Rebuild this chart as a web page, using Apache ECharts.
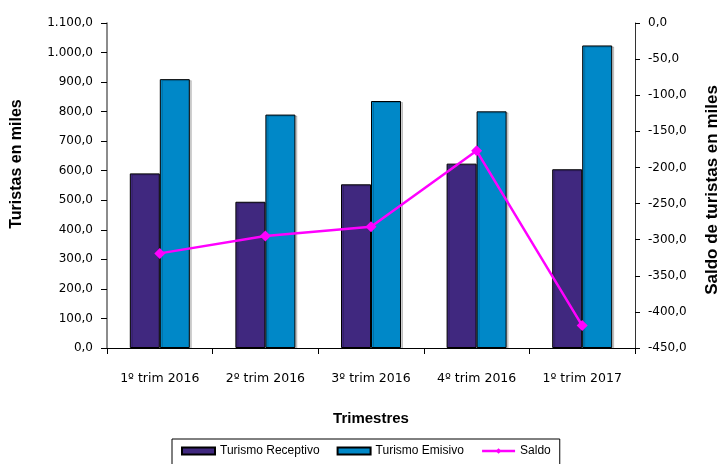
<!DOCTYPE html>
<html>
<head>
<meta charset="utf-8">
<script src="https://cdn.jsdelivr.net/npm/echarts@6/dist/echarts.min.js"></script>
<style>
html,body{margin:0;padding:0;background:#fff;}
#chart{width:723px;height:464px;}
</style>
</head>
<body>
<div id="chart"></div>
<script>
var categories = ['1º trim 2016', '2º trim 2016', '3º trim 2016', '4º trim 2016', '1º trim 2017'];
var receptivo = [591, 495, 554, 624, 605];
var emisivo = [910, 790, 836, 801, 1024];
var saldo = [-319, -295, -282, -177, -419];

function fmt(v) {
  var neg = v < 0;
  var s = Math.abs(v).toFixed(1).split('.');
  var ip = s[0].replace(/\B(?=(\d{3})+(?!\d))/g, '.');
  return (neg ? '-' : '') + ip + ',' + s[1];
}

var chart = echarts.init(document.getElementById('chart'), null, {renderer: 'canvas'});
var tickFont = {fontFamily: 'DejaVu Sans', fontSize: 12, color: '#000'};
var option = {
  animation: false,
  backgroundColor: '#fff',
  grid: {left: 107, right: 88, top: 23, bottom: 116, containLabel: false},
  legend: {
    left: 172, top: 439,
    orient: 'horizontal',
    borderColor: '#000', borderWidth: 1,
    padding: [6, 9, 8, 9],
    itemGap: 17,
    itemWidth: 33, itemHeight: 7,
    textStyle: {fontFamily: 'Liberation Sans', fontSize: 12, color: '#000'},
    data: [
      {name: 'Turismo Receptivo', icon: 'rect'},
      {name: 'Turismo Emisivo', icon: 'rect'},
      {name: 'Saldo', lineStyle: {width: 2.5, color: '#FF00FF'}}
    ]
  },
  xAxis: {
    type: 'category',
    data: categories,
    name: 'Trimestres',
    nameLocation: 'middle',
    nameGap: 63,
    nameTextStyle: {fontFamily: 'Liberation Sans', fontSize: 15, fontWeight: 'bold', color: '#000'},
    axisLine: {lineStyle: {color: '#000', width: 1}},
    axisTick: {show: true, length: 6, lineStyle: {color: '#000'}},
    axisLabel: Object.assign({margin: 24}, tickFont, {fontSize: 12.5}),
    splitLine: {show: false}
  },
  yAxis: [
    {
      type: 'value', min: 0, max: 1100, interval: 100,
      position: 'left',
      axisLine: {show: true, lineStyle: {color: '#666', width: 1.5}},
      axisTick: {show: true, length: 6, lineStyle: {color: '#000'}},
      axisLabel: Object.assign({margin: 14, formatter: fmt}, tickFont),
      splitLine: {show: false}
    },
    {
      type: 'value', min: -450, max: 0, interval: 50,
      position: 'right',
      axisLine: {show: true, lineStyle: {color: '#333', width: 1}},
      axisTick: {show: true, length: 5, lineStyle: {color: '#000'}},
      axisLabel: Object.assign({margin: 13, formatter: fmt}, tickFont),
      splitLine: {show: false}
    }
  ],
  graphic: [
    {
      type: 'text', x: 17, y: 164, rotation: Math.PI / 2,
      style: {text: 'Turistas en miles', fontFamily: 'Liberation Sans', fontSize: 16, fontWeight: 'bold', fill: '#000', align: 'center', verticalAlign: 'middle'}
    },
    {
      type: 'text', x: 712, y: 190, rotation: Math.PI / 2,
      style: {text: 'Saldo de turistas en miles', fontFamily: 'Liberation Sans', fontSize: 17, fontWeight: 'bold', fill: '#000', align: 'center', verticalAlign: 'middle'}
    }
  ],
  series: [
    {
      name: 'Turismo Receptivo', type: 'bar', yAxisIndex: 0,
      data: receptivo, barWidth: 30, barGap: '0%',
      itemStyle: {color: '#40287F', borderColor: '#000', borderWidth: 1, shadowColor: 'rgba(0,0,0,0.18)', shadowOffsetX: 2, shadowOffsetY: 1, shadowBlur: 0}
    },
    {
      name: 'Turismo Emisivo', type: 'bar', yAxisIndex: 0,
      data: emisivo, barWidth: 30, barGap: '0%',
      itemStyle: {color: '#0088C8', borderColor: '#000', borderWidth: 1, shadowColor: 'rgba(0,0,0,0.18)', shadowOffsetX: 2, shadowOffsetY: 1, shadowBlur: 0}
    },
    {
      name: 'Saldo', type: 'line', yAxisIndex: 1,
      data: saldo,
      symbol: 'diamond', symbolSize: 11,
      lineStyle: {color: '#FF00FF', width: 2.5},
      itemStyle: {color: '#FF00FF'},
      z: 5
    }
  ]
};
chart.setOption(option);
</script>
</body>
</html>
